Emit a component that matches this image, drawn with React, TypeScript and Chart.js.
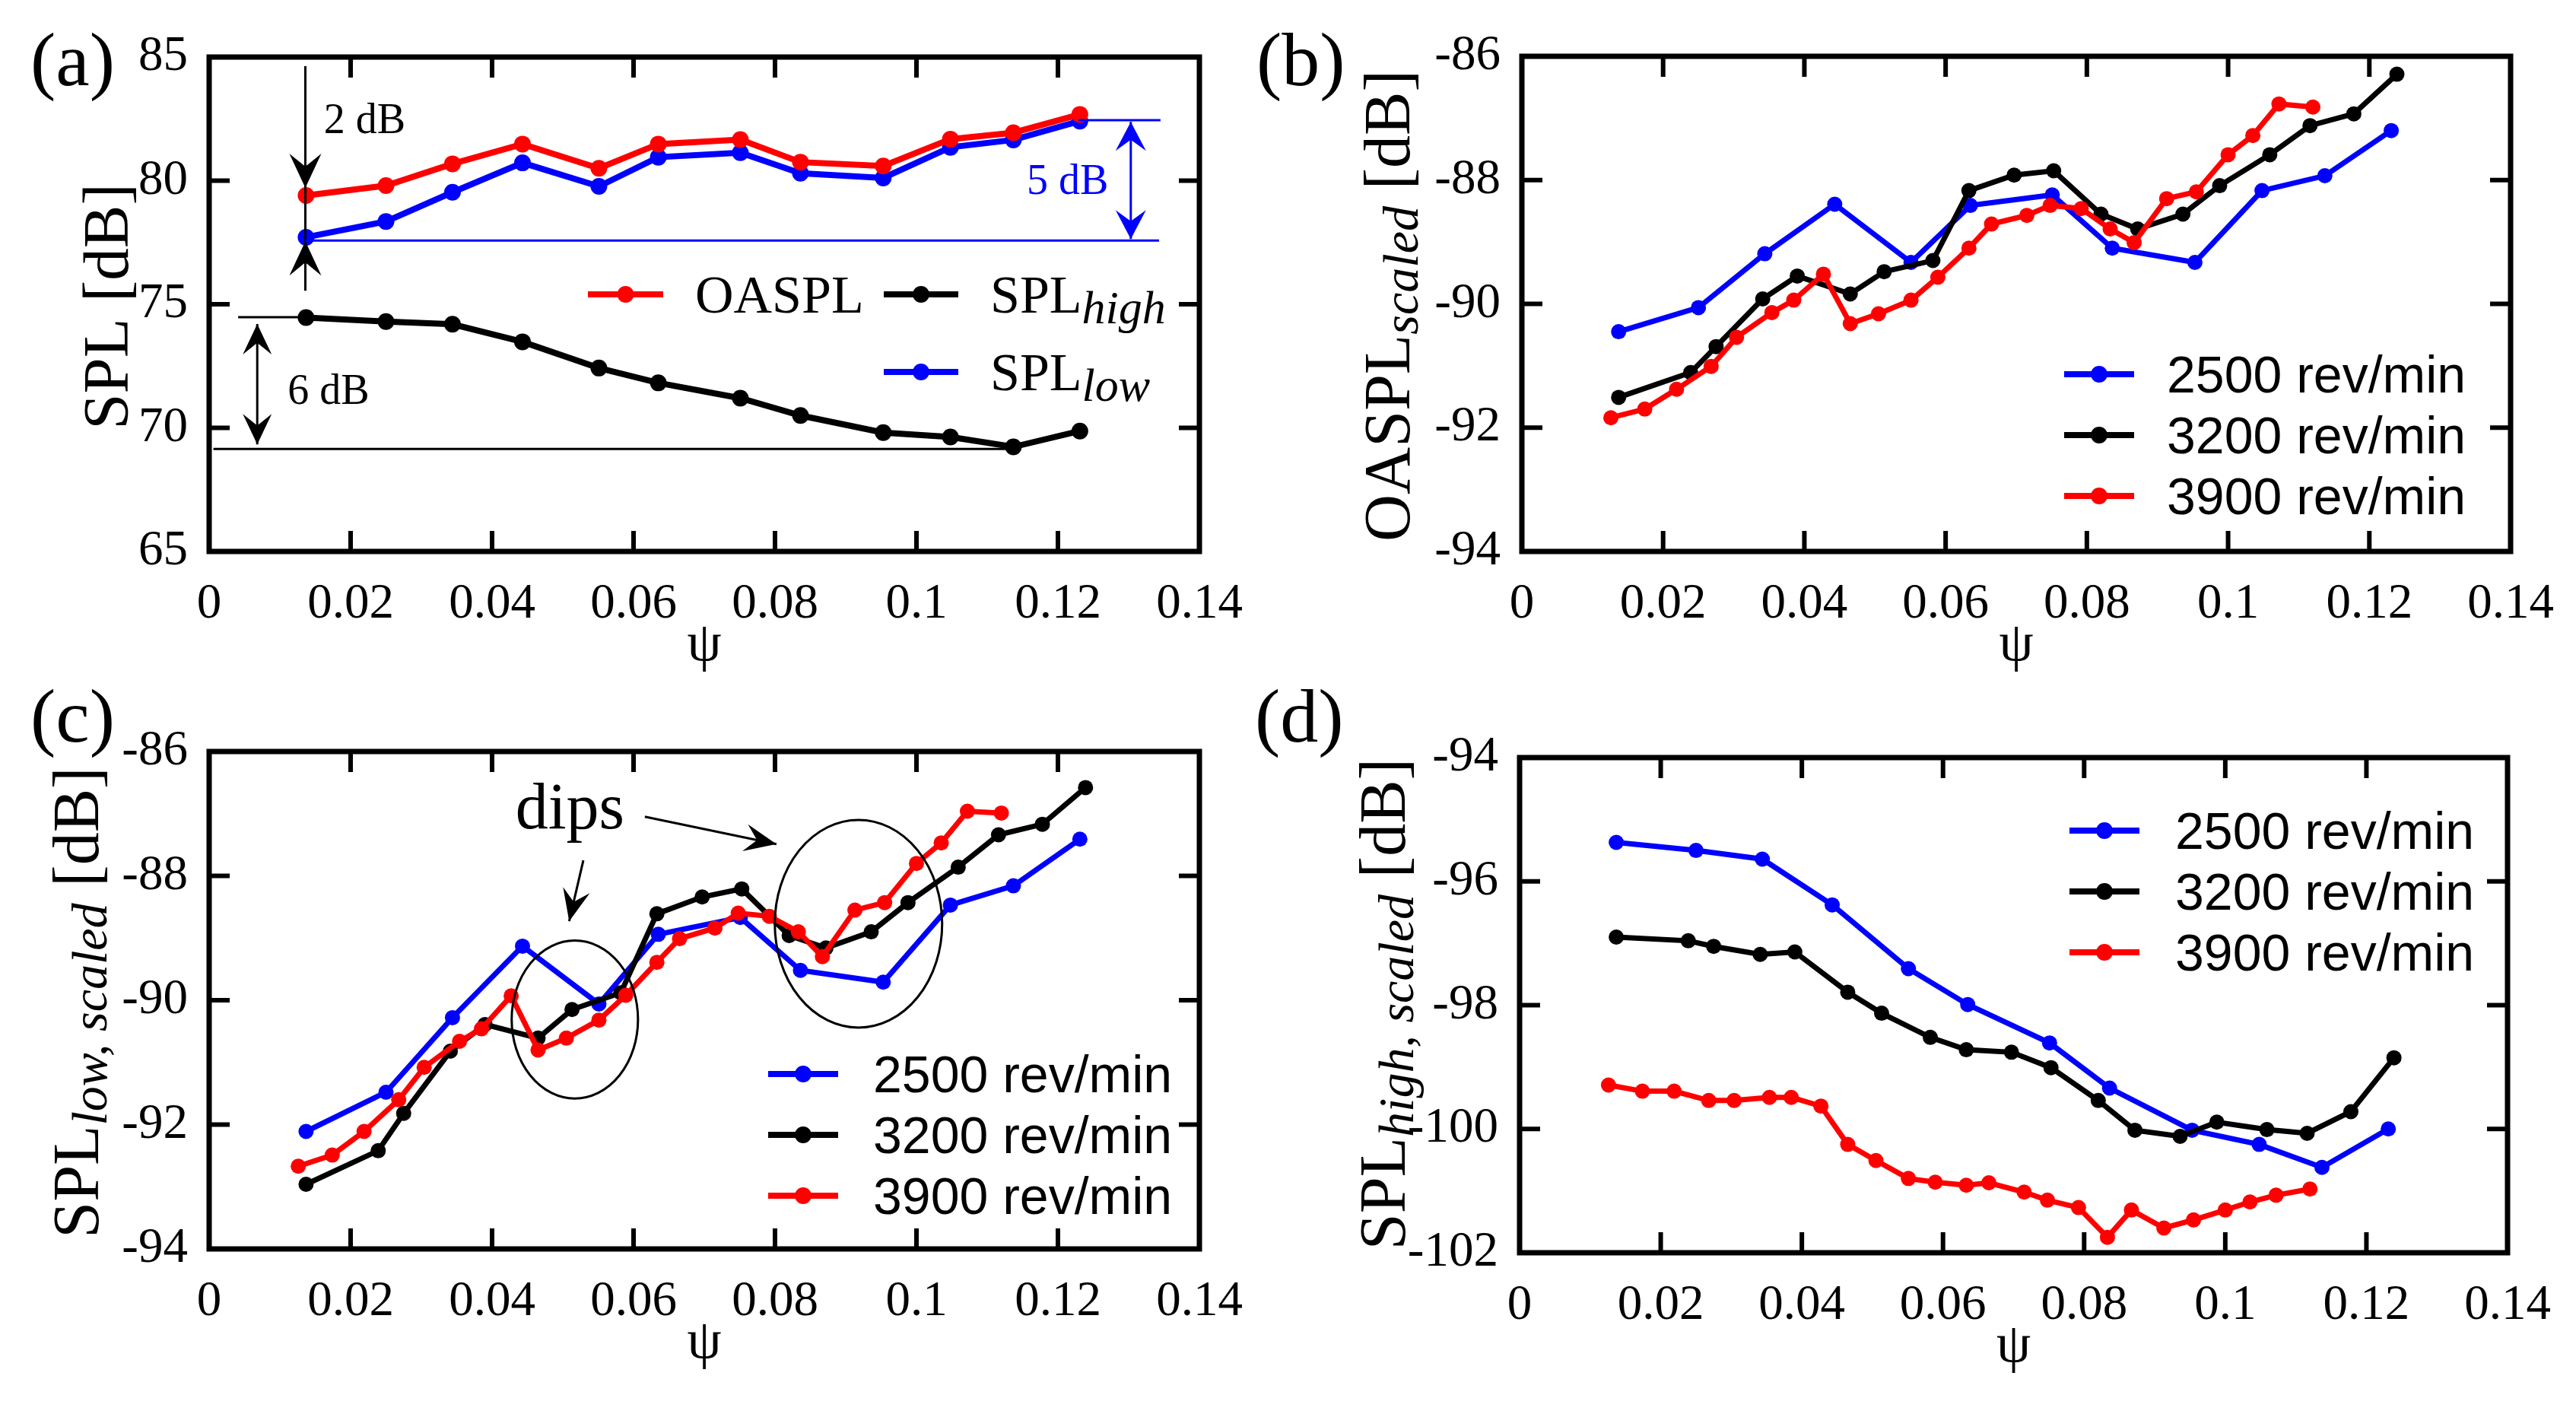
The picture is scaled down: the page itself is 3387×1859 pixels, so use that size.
import React, { useEffect, useRef } from "react";
import { Chart, registerables } from "chart.js";

Chart.register(...registerables);

const SERIF = '"Liberation Serif", "Times New Roman", serif';
const SANS = '"Liberation Sans", Arial, sans-serif';

// ---------- axis ticks ----------
const psiTicks = [0, 0.02, 0.04, 0.06, 0.08, 0.1, 0.12, 0.14];
const psiTickLabels = ["0", "0.02", "0.04", "0.06", "0.08", "0.1", "0.12", "0.14"];
const splTicksA = [65, 70, 75, 80, 85];
const oasplTicksB = [-94, -92, -90, -88, -86];
const splLowTicksC = [-94, -92, -90, -88, -86];
const splHighTicksD = [-102, -100, -98, -96, -94];

// ---------- flow coefficient (psi) sample positions ----------
const psi2500 = [0.0137, 0.025, 0.0344, 0.0443, 0.0551, 0.0635, 0.0751, 0.0836, 0.0953, 0.1048, 0.1137, 0.1231];
const psi3200 = [0.0137, 0.0239, 0.0275, 0.0341, 0.039, 0.0465, 0.0513, 0.0582, 0.0633, 0.0697, 0.0753, 0.082, 0.0872, 0.0936, 0.0988, 0.1059, 0.1116, 0.1178, 0.1239];
const psi3900 = [0.0126, 0.0174, 0.0219, 0.0268, 0.0304, 0.0354, 0.0385, 0.0427, 0.0465, 0.0505, 0.0551, 0.0589, 0.0633, 0.0665, 0.0715, 0.0748, 0.0792, 0.0833, 0.0867, 0.0913, 0.0955, 0.1, 0.1035, 0.1072, 0.112];

// ---------- (a) SPL [dB] ----------
const oasplA = [79.4, 79.8, 80.68, 81.48, 80.5, 81.48, 81.66, 80.75, 80.59, 81.68, 81.94, 82.68];
const splLowA = [77.71, 78.35, 79.53, 80.72, 79.77, 80.95, 81.13, 80.3, 80.11, 81.35, 81.65, 82.41];
const splHighA = [74.46, 74.3, 74.19, 73.48, 72.42, 71.82, 71.2, 70.5, 69.81, 69.63, 69.23, 69.87];

// ---------- (b) OASPL scaled ----------
const oaspl2500 = [-90.45, -90.06, -89.19, -88.39, -89.33, -88.41, -88.24, -89.1, -89.33, -88.17, -87.93, -87.2];
const oaspl3200 = [-91.51, -91.11, -90.69, -89.92, -89.55, -89.84, -89.48, -89.3, -88.17, -87.92, -87.85, -88.55, -88.79, -88.55, -88.09, -87.59, -87.12, -86.93, -86.29];
const oaspl3900 = [-91.84, -91.7, -91.38, -91.01, -90.54, -90.14, -89.94, -89.52, -90.32, -90.16, -89.94, -89.57, -89.1, -88.71, -88.57, -88.41, -88.46, -88.79, -89.01, -88.3, -88.19, -87.59, -87.28, -86.77, -86.82];

// ---------- (c) SPL low, scaled ----------
const splLow2500 = [-92.11, -91.48, -90.28, -89.13, -90.06, -88.94, -88.67, -89.52, -89.71, -88.47, -88.16, -87.41];
const splLow3200 = [-92.96, -92.42, -91.82, -90.82, -90.39, -90.61, -90.15, -89.88, -88.61, -88.34, -88.21, -88.96, -89.16, -88.9, -88.43, -87.86, -87.34, -87.17, -86.58];
const splLow3900 = [-92.67, -92.49, -92.11, -91.6, -91.08, -90.66, -90.46, -89.93, -90.8, -90.61, -90.32, -89.92, -89.39, -89.01, -88.84, -88.6, -88.65, -88.9, -89.3, -88.55, -88.43, -87.8, -87.47, -86.96, -86.99];

// ---------- (d) SPL high, scaled ----------
const splHigh2500 = [-95.37, -95.5, -95.64, -96.38, -97.41, -97.99, -98.61, -99.34, -100.02, -100.25, -100.62, -100.0];
const splHigh3200 = [-96.9, -96.96, -97.05, -97.18, -97.14, -97.79, -98.13, -98.52, -98.72, -98.76, -99.01, -99.54, -100.02, -100.12, -99.89, -100.01, -100.07, -99.72, -98.85];
const splHigh3900 = [-99.29, -99.39, -99.39, -99.54, -99.54, -99.49, -99.49, -99.63, -100.25, -100.51, -100.8, -100.86, -100.91, -100.87, -101.02, -101.15, -101.27, -101.75, -101.31, -101.6, -101.47, -101.31, -101.18, -101.07, -100.97];

const speedLabels = ["2500 rev/min", "3200 rev/min", "3900 rev/min"];
const RED = "#ff0000";
const BLUE = "#0000ff";
const BLACK = "#000000";

// ---------- helpers ----------
type Seg = { t: string; size: number; italic?: boolean; dy?: number };

function segFont(s: Seg, family: string) {
  return `${s.italic ? "italic " : ""}${s.size}px ${family}`;
}
function measureSegs(ctx: CanvasRenderingContext2D, segs: Seg[], family: string) {
  let w = 0;
  for (const s of segs) {
    ctx.font = segFont(s, family);
    w += ctx.measureText(s.t).width;
  }
  return w;
}
function drawSegs(ctx: CanvasRenderingContext2D, segs: Seg[], x: number, y: number, family: string, color: string) {
  let cx = x;
  ctx.fillStyle = color;
  ctx.textBaseline = "alphabetic";
  ctx.textAlign = "left";
  for (const s of segs) {
    ctx.font = segFont(s, family);
    ctx.fillText(s.t, cx, y + (s.dy || 0));
    cx += ctx.measureText(s.t).width;
  }
}

function arrowHead(ctx: CanvasRenderingContext2D, tipX: number, tipY: number, fromX: number, fromY: number, len: number, width: number, color: string) {
  const ang = Math.atan2(tipY - fromY, tipX - fromX);
  ctx.save();
  ctx.translate(tipX, tipY);
  ctx.rotate(ang);
  ctx.beginPath();
  ctx.moveTo(0, 0);
  ctx.lineTo(-len, -width / 2);
  ctx.lineTo(-len * 0.62, 0);
  ctx.lineTo(-len, width / 2);
  ctx.closePath();
  ctx.fillStyle = color;
  ctx.fill();
  ctx.restore();
}

function line(ctx: CanvasRenderingContext2D, x1: number, y1: number, x2: number, y2: number, color: string, w: number) {
  ctx.beginPath();
  ctx.moveTo(x1, y1);
  ctx.lineTo(x2, y2);
  ctx.strokeStyle = color;
  ctx.lineWidth = w;
  ctx.lineCap = "butt";
  ctx.stroke();
}

// ---------- annotation values (data units) ----------
const annA = {
  gapX: 0.0136, gapTop: 84.63, gapBottom: 75.55, gapTipHigh: 79.71, gapTipLow: 77.55,
  label2: { x: 0.0162, y: 81.92, text: "2 dB" },
  low5: { y: 77.58, x1: 0.0136, x2: 0.1343 },
  top5: { y: 82.45, x1: 0.1229, x2: 0.1345 },
  arrow5: { x: 0.1303, top: 82.38, bottom: 77.64 },
  label5: { x: 0.1156, y: 79.46, text: "5 dB" },
  high6: { y: 74.48, x1: 0.0041, x2: 0.0137 },
  low6: { y: 69.15, x1: 0.0006, x2: 0.1137 },
  arrow6: { x: 0.0068, top: 74.2, bottom: 69.33 },
  label6: { x: 0.0111, y: 70.97, text: "6 dB" },
};
const annC = {
  dips: { x: 0.0433, y: -87.24, text: "dips" },
  arrows: [
    { x1: 0.0529, y1: -87.75, x2: 0.0509, y2: -88.73 },
    { x1: 0.0616, y1: -87.05, x2: 0.0802, y2: -87.49 },
  ],
  ellipses: [
    { cx: 0.0517, cy: -90.31, rx: 0.00893, ry: 1.27 },
    { cx: 0.0918, cy: -88.77, rx: 0.01183, ry: 1.67 },
  ],
};

type Series = { label: string; x: number[]; y: number[]; color: string; order: number };
type PanelSpec = {
  key: string;
  canvas: { left: number; top: number; width: number; height: number };
  area: { left: number; right: number; top: number; bottom: number };
  yMin: number;
  yMax: number;
  yTicks: number[];
  series: Series[];
  lineWidth: number;
  pointRadius: number;
  label: { text: string; x: number; y: number };
  yTitle: { segs: Seg[]; cx: number; cy: number; base: number };
  legend: (ctx: CanvasRenderingContext2D) => void;
  annotate?: (ctx: CanvasRenderingContext2D, X: (v: number) => number, Y: (v: number) => number) => void;
};

function legendSample(ctx: CanvasRenderingContext2D, x1: number, x2: number, y: number, color: string) {
  line(ctx, x1, y, x2, y, color, 8);
  ctx.beginPath();
  ctx.arc((x1 + x2) / 2, y, 11, 0, Math.PI * 2);
  ctx.fillStyle = color;
  ctx.fill();
}

function speedLegend(x1: number, x2: number, tx: number, rows: number[]) {
  const colors = [BLUE, BLACK, RED];
  return (ctx: CanvasRenderingContext2D) => {
    rows.forEach((ry, i) => {
      legendSample(ctx, x1, x2, ry, colors[i]);
      ctx.font = `68px ${SANS}`;
      ctx.fillStyle = BLACK;
      ctx.textAlign = "left";
      ctx.textBaseline = "alphabetic";
      ctx.fillText(speedLabels[i], tx, ry + 24);
    });
  };
}

const speedSeries = (v2500: number[], v3200: number[], v3900: number[]): Series[] => [
  { label: speedLabels[2], x: psi3900, y: v3900, color: RED, order: 0 },
  { label: speedLabels[1], x: psi3200, y: v3200, color: BLACK, order: 1 },
  { label: speedLabels[0], x: psi2500, y: v2500, color: BLUE, order: 2 },
];

const panels: PanelSpec[] = [
  {
    key: "a",
    canvas: { left: 0, top: 0, width: 1693, height: 929 },
    area: { left: 275, right: 1577, top: 75, bottom: 725 },
    yMin: 65, yMax: 85, yTicks: splTicksA,
    series: [
      { label: "OASPL", x: psi2500, y: oasplA, color: RED, order: 0 },
      { label: "SPL low", x: psi2500, y: splLowA, color: BLUE, order: 1 },
      { label: "SPL high", x: psi2500, y: splHighA, color: BLACK, order: 2 },
    ],
    lineWidth: 8,
    pointRadius: 11,
    label: { text: "(a)", x: 40, y: 112 },
    yTitle: { segs: [{ t: "SPL [dB]", size: 85 }], cx: 140, cy: 403, base: 28 },
    legend: (ctx) => {
      legendSample(ctx, 773, 872, 387, RED);
      drawSegs(ctx, [{ t: "OASPL", size: 70 }], 914, 411, SERIF, BLACK);
      legendSample(ctx, 1162, 1260, 387, BLACK);
      drawSegs(ctx, [{ t: "SPL", size: 70 }, { t: "high", size: 62, italic: true, dy: 14 }], 1302, 411, SERIF, BLACK);
      legendSample(ctx, 1162, 1260, 489, BLUE);
      drawSegs(ctx, [{ t: "SPL", size: 70 }, { t: "low", size: 62, italic: true, dy: 14 }], 1302, 513, SERIF, BLACK);
    },
    annotate: (ctx, X, Y) => {
      const a = annA;
      const gx = X(a.gapX);
      line(ctx, gx, Y(a.gapTop), gx, Y(a.gapBottom), BLACK, 3);
      arrowHead(ctx, gx, Y(a.gapTipHigh), gx, Y(a.gapTop), 45, 42, BLACK);
      arrowHead(ctx, gx, Y(a.gapTipLow), gx, Y(a.gapBottom), 45, 42, BLACK);
      ctx.font = `56px ${SERIF}`;
      ctx.textAlign = "left";
      ctx.textBaseline = "alphabetic";
      ctx.fillStyle = BLACK;
      ctx.fillText(a.label2.text, X(a.label2.x), Y(a.label2.y));
      line(ctx, X(a.low5.x1), Y(a.low5.y), X(a.low5.x2), Y(a.low5.y), BLUE, 3);
      line(ctx, X(a.top5.x1), Y(a.top5.y), X(a.top5.x2), Y(a.top5.y), BLUE, 3);
      const ax = X(a.arrow5.x);
      line(ctx, ax, Y(a.arrow5.top), ax, Y(a.arrow5.bottom), BLUE, 3);
      arrowHead(ctx, ax, Y(a.arrow5.top), ax, Y(a.arrow5.bottom), 38, 40, BLUE);
      arrowHead(ctx, ax, Y(a.arrow5.bottom), ax, Y(a.arrow5.top), 38, 40, BLUE);
      ctx.fillStyle = BLUE;
      ctx.fillText(a.label5.text, X(a.label5.x), Y(a.label5.y));
      line(ctx, X(a.high6.x1), Y(a.high6.y), X(a.high6.x2), Y(a.high6.y), BLACK, 3);
      line(ctx, X(a.low6.x1), Y(a.low6.y), X(a.low6.x2), Y(a.low6.y), BLACK, 3);
      const bx = X(a.arrow6.x);
      line(ctx, bx, Y(a.arrow6.top), bx, Y(a.arrow6.bottom), BLACK, 3);
      arrowHead(ctx, bx, Y(a.arrow6.top), bx, Y(a.arrow6.bottom), 40, 38, BLACK);
      arrowHead(ctx, bx, Y(a.arrow6.bottom), bx, Y(a.arrow6.top), 40, 38, BLACK);
      ctx.fillStyle = BLACK;
      ctx.fillText(a.label6.text, X(a.label6.x), Y(a.label6.y));
    },
  },
  {
    key: "b",
    canvas: { left: 1620, top: 0, width: 1767, height: 929 },
    area: { left: 381, right: 1681, top: 74, bottom: 725 },
    yMin: -94, yMax: -86, yTicks: oasplTicksB,
    series: speedSeries(oaspl2500, oaspl3200, oaspl3900),
    lineWidth: 7,
    pointRadius: 10,
    label: { text: "(b)", x: 32, y: 112 },
    yTitle: {
      segs: [{ t: "OASPL", size: 86 }, { t: "scaled", size: 66, italic: true, dy: 11 }, { t: " [dB]", size: 86 }],
      cx: 205, cy: 402, base: 28,
    },
    legend: speedLegend(1094, 1186, 1229, [492, 572, 652]),
  },
  {
    key: "c",
    canvas: { left: 0, top: 880, width: 1693, height: 979 },
    area: { left: 275, right: 1577, top: 108, bottom: 762 },
    yMin: -94, yMax: -86, yTicks: splLowTicksC,
    series: speedSeries(splLow2500, splLow3200, splLow3900),
    lineWidth: 7,
    pointRadius: 10,
    label: { text: "(c)", x: 40, y: 95 },
    yTitle: {
      segs: [{ t: "SPL", size: 86 }, { t: "low, scaled", size: 66, italic: true, dy: 11 }, { t: " [dB]", size: 86 }],
      cx: 101, cy: 438, base: 28,
    },
    legend: speedLegend(1010, 1102, 1148, [532, 612, 692]),
    annotate: (ctx, X, Y) => {
      const c = annC;
      ctx.font = `86px ${SERIF}`;
      ctx.fillStyle = BLACK;
      ctx.textAlign = "left";
      ctx.textBaseline = "alphabetic";
      ctx.fillText(c.dips.text, X(c.dips.x), Y(c.dips.y));
      for (const ar of c.arrows) {
        line(ctx, X(ar.x1), Y(ar.y1), X(ar.x2), Y(ar.y2), BLACK, 3);
        arrowHead(ctx, X(ar.x2), Y(ar.y2), X(ar.x1), Y(ar.y1), 42, 36, BLACK);
      }
      for (const e of c.ellipses) {
        const cx = X(e.cx), cy = Y(e.cy);
        const rx = Math.abs(X(e.cx + e.rx) - cx), ry = Math.abs(Y(e.cy + e.ry) - cy);
        ctx.beginPath();
        ctx.ellipse(cx, cy, rx, ry, 0, 0, Math.PI * 2);
        ctx.strokeStyle = BLACK;
        ctx.lineWidth = 3;
        ctx.stroke();
      }
    },
  },
  {
    key: "d",
    canvas: { left: 1620, top: 880, width: 1767, height: 979 },
    area: { left: 378, right: 1677, top: 116, bottom: 767 },
    yMin: -102, yMax: -94, yTicks: splHighTicksD,
    series: speedSeries(splHigh2500, splHigh3200, splHigh3900),
    lineWidth: 7,
    pointRadius: 10,
    label: { text: "(d)", x: 30, y: 95 },
    yTitle: {
      segs: [{ t: "SPL", size: 86 }, { t: "high, scaled", size: 66, italic: true, dy: 11 }, { t: " [dB]", size: 86 }],
      cx: 199, cy: 440, base: 28,
    },
    legend: speedLegend(1101, 1193, 1240, [212, 292, 372]),
  },
];

function panelPlugin(p: PanelSpec) {
  return {
    id: "panel_" + p.key,
    afterDatasetsDraw(chart: any) {
      const ctx: CanvasRenderingContext2D = chart.ctx;
      const X = (v: number) => chart.scales.x.getPixelForValue(v);
      const Y = (v: number) => chart.scales.y.getPixelForValue(v);
      ctx.save();
      if (p.annotate) p.annotate(ctx, X, Y);
      p.legend(ctx);
      ctx.restore();
    },
    afterDraw(chart: any) {
      const ctx: CanvasRenderingContext2D = chart.ctx;
      const ca = chart.chartArea;
      const X = (v: number) => chart.scales.x.getPixelForValue(v);
      const Y = (v: number) => chart.scales.y.getPixelForValue(v);
      ctx.save();
      // inward ticks
      const tl = 27;
      for (const v of psiTicks.slice(1, -1)) {
        const x = X(v);
        line(ctx, x, ca.bottom, x, ca.bottom - tl, BLACK, 6);
        line(ctx, x, ca.top, x, ca.top + tl, BLACK, 6);
      }
      for (const v of p.yTicks.slice(1, -1)) {
        const y = Y(v);
        line(ctx, ca.left, y, ca.left + tl, y, BLACK, 6);
        line(ctx, ca.right, y, ca.right - tl, y, BLACK, 6);
      }
      // frame
      ctx.lineWidth = 7;
      ctx.lineJoin = "miter";
      ctx.strokeStyle = BLACK;
      ctx.strokeRect(ca.left, ca.top, ca.right - ca.left, ca.bottom - ca.top);
      // x title
      ctx.font = `72px ${SERIF}`;
      ctx.fillStyle = BLACK;
      ctx.textAlign = "center";
      ctx.textBaseline = "alphabetic";
      ctx.fillText("\u03c8", (ca.left + ca.right) / 2, ca.bottom + 143);
      // y title (rotated)
      const t = p.yTitle;
      const w = measureSegs(ctx, t.segs, SERIF);
      ctx.save();
      ctx.translate(t.cx, t.cy);
      ctx.rotate(-Math.PI / 2);
      drawSegs(ctx, t.segs, -w / 2, t.base, SERIF, BLACK);
      ctx.restore();
      // panel label
      ctx.font = `100px ${SERIF}`;
      ctx.textAlign = "left";
      ctx.textBaseline = "alphabetic";
      ctx.fillStyle = BLACK;
      ctx.fillText(p.label.text, p.label.x, p.label.y);
      ctx.restore();
    },
  };
}

function buildConfig(p: PanelSpec): any {
  const { width, height } = p.canvas;
  return {
    type: "line",
    data: {
      datasets: p.series.map((s) => ({
        label: s.label,
        data: s.x.map((x, i) => ({ x, y: s.y[i] })),
        borderColor: s.color,
        backgroundColor: s.color,
        pointBackgroundColor: s.color,
        pointBorderColor: s.color,
        pointBorderWidth: 0,
        pointRadius: p.pointRadius,
        borderWidth: p.lineWidth,
        tension: 0,
        fill: false,
        clip: false,
        order: s.order,
      })),
    },
    options: {
      responsive: false,
      animation: false,
      events: [],
      layout: { padding: { left: 0, top: p.area.top, right: width - p.area.right, bottom: 0 } },
      plugins: { legend: { display: false }, tooltip: { enabled: false } },
      scales: {
        x: {
          type: "linear",
          min: 0,
          max: 0.14,
          grid: { display: false },
          border: { display: false },
          afterBuildTicks: (scale: any) => {
            scale.ticks = psiTicks.map((v) => ({ value: v }));
          },
          afterFit: (scale: any) => {
            scale.height = height - p.area.bottom;
          },
          ticks: {
            autoSkip: false,
            maxRotation: 0,
            minRotation: 0,
            padding: 23,
            color: BLACK,
            font: { family: SERIF, size: 65 },
            callback: (v: number) => {
              const i = psiTicks.findIndex((t) => Math.abs(t - v) < 1e-9);
              return i >= 0 ? psiTickLabels[i] : "";
            },
          },
        },
        y: {
          type: "linear",
          min: p.yMin,
          max: p.yMax,
          grid: { display: false },
          border: { display: false },
          afterBuildTicks: (scale: any) => {
            scale.ticks = p.yTicks.map((v) => ({ value: v }));
          },
          afterFit: (scale: any) => {
            scale.width = p.area.left;
          },
          ticks: {
            autoSkip: false,
            padding: 20,
            color: BLACK,
            font: { family: SERIF, size: 65 },
            callback: (v: number) => String(v),
          },
        },
      },
    },
    plugins: [panelPlugin(p)],
  };
}

function Panel({ p }: { p: PanelSpec }) {
  const ref = useRef<HTMLCanvasElement>(null);
  useEffect(() => {
    if (!ref.current) return;
    const chart = new Chart(ref.current, buildConfig(p));
    return () => chart.destroy();
  }, [p]);
  const { left, top, width, height } = p.canvas;
  return (
    <canvas
      ref={ref}
      width={width}
      height={height}
      style={{ position: "absolute", left, top, width, height }}
    />
  );
}

export default function App() {
  return (
    <div style={{ position: "absolute", left: 0, top: 0, width: 3387, height: 1859, background: "#ffffff", overflow: "hidden" }}>
      {panels.map((p) => (
        <Panel key={p.key} p={p} />
      ))}
    </div>
  );
}
